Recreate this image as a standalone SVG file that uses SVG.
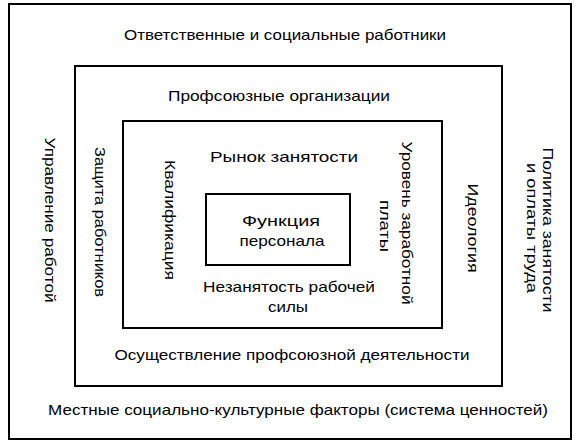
<svg xmlns="http://www.w3.org/2000/svg" width="575" height="443" viewBox="0 0 575 443">
<style>
.box{fill:none;stroke:#000;stroke-width:2}
text{font-family:"Liberation Sans",Arial,sans-serif;font-size:15px;fill:#000;text-anchor:middle}
</style>
<rect width="575" height="443" fill="#fff"/>
<g id="outer">
<rect class="box" x="9" y="4" width="562" height="435"/>
<text x="285" y="40" textLength="322" lengthAdjust="spacingAndGlyphs">Ответственные и социальные работники</text>
<text x="298" y="415" textLength="500" lengthAdjust="spacingAndGlyphs">Местные социально-культурные факторы (система ценностей)</text>
<text transform="translate(50,220) rotate(90)" y="5" textLength="165" lengthAdjust="spacingAndGlyphs">Управление работой</text>
<text transform="translate(548,230) rotate(90)" y="5" textLength="165" lengthAdjust="spacingAndGlyphs">Политика занятости</text>
<text transform="translate(532,228) rotate(90)" y="5" textLength="130" lengthAdjust="spacingAndGlyphs">и оплаты труда</text>
</g>
<g id="unions">
<rect class="box" x="75" y="66" width="427" height="320"/>
<text x="279" y="101" textLength="222" lengthAdjust="spacingAndGlyphs">Профсоюзные организации</text>
<text x="292" y="360" textLength="355" lengthAdjust="spacingAndGlyphs">Осуществление профсоюзной деятельности</text>
<text transform="translate(100,222) rotate(90)" y="5" textLength="150" lengthAdjust="spacingAndGlyphs">Защита работников</text>
<text transform="translate(473,228) rotate(90)" y="5" textLength="89" lengthAdjust="spacingAndGlyphs">Идеология</text>
</g>
<g id="market">
<rect class="box" x="123" y="121" width="319" height="207"/>
<text x="284" y="162" textLength="148" lengthAdjust="spacingAndGlyphs">Рынок занятости</text>
<text x="289" y="292" textLength="172" lengthAdjust="spacingAndGlyphs">Незанятость рабочей</text>
<text x="288" y="312" textLength="40" lengthAdjust="spacingAndGlyphs">силы</text>
<text transform="translate(170,220) rotate(90)" y="5" textLength="120" lengthAdjust="spacingAndGlyphs">Квалификация</text>
<text transform="translate(407,223) rotate(90)" y="5" textLength="163" lengthAdjust="spacingAndGlyphs">Уровень заработной</text>
<text transform="translate(385,226) rotate(90)" y="5" textLength="52" lengthAdjust="spacingAndGlyphs">платы</text>
</g>
<g id="personnel">
<rect class="box" x="206" y="194" width="144" height="71"/>
<text x="281" y="226" textLength="78" lengthAdjust="spacingAndGlyphs">Функция</text>
<text x="282" y="246" textLength="85" lengthAdjust="spacingAndGlyphs">персонала</text>
</g>
<g id="connectors"/>
</svg>
